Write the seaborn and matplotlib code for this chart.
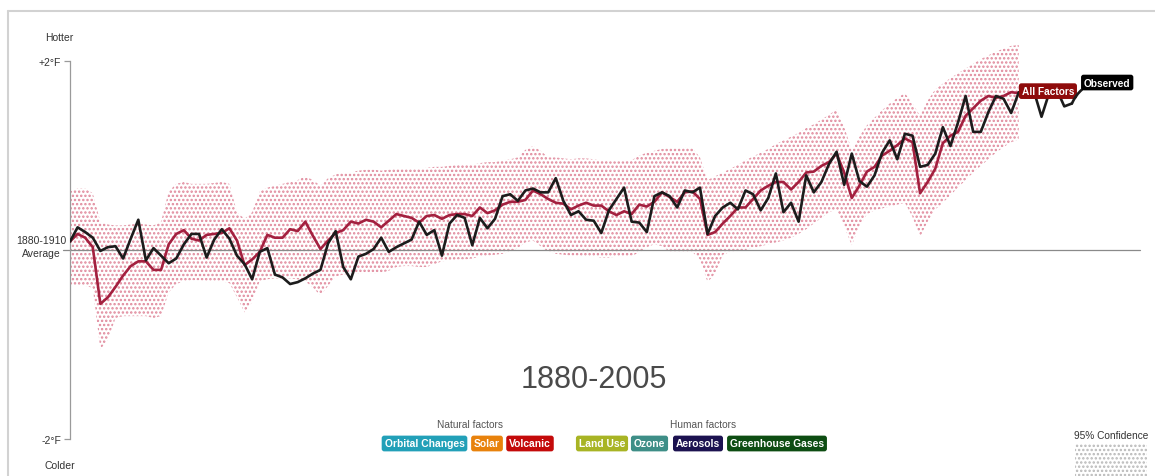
import numpy as np
import pandas as pd
import matplotlib
matplotlib.use("Agg")
import matplotlib.pyplot as plt
import seaborn as sns
from matplotlib.patches import Rectangle
from matplotlib.lines import Line2D

# ---------------- data ----------------
years = list(range(1880, 2006))
obs_years = list(range(1880, 2013))

observed = [
    0.09, 0.24, 0.19, 0.13, -0.01, 0.03, 0.04, -0.09, 0.12, 0.32,
    -0.11, 0.02, -0.06, -0.14, -0.09, 0.06, 0.17, 0.17, -0.08, 0.11,
    0.22, 0.12, -0.06, -0.15, -0.31, -0.02, 0.02, -0.26, -0.29, -0.36,
    -0.34, -0.30, -0.25, -0.21, 0.07, 0.20, -0.18, -0.31, -0.07, -0.04,
    0.01, 0.13, -0.02, 0.03, 0.07, 0.11, 0.30, 0.16, 0.21, -0.06,
    0.28, 0.37, 0.34, 0.05, 0.34, 0.23, 0.33, 0.57, 0.59, 0.52,
    0.63, 0.65, 0.61, 0.61, 0.76, 0.52, 0.37, 0.41, 0.32, 0.31,
    0.18, 0.42, 0.54, 0.66, 0.30, 0.29, 0.19, 0.57, 0.61, 0.57,
    0.45, 0.63, 0.61, 0.66, 0.17, 0.36, 0.45, 0.50, 0.43, 0.63,
    0.59, 0.42, 0.55, 0.81, 0.40, 0.50, 0.30, 0.79, 0.61, 0.72,
    0.91, 1.04, 0.69, 1.02, 0.73, 0.67, 0.79, 1.03, 1.16, 0.96,
    1.23, 1.21, 0.88, 0.90, 1.02, 1.30, 1.10, 1.35, 1.63, 1.25,
    1.25, 1.46, 1.63, 1.60, 1.45, 1.67,
    1.65, 1.68, 1.41, 1.66, 1.70, 1.52, 1.55,
]

all_factors = [
    0.09, 0.17, 0.13, 0.03, -0.57, -0.50, -0.39, -0.27, -0.17, -0.12,
    -0.12, -0.21, -0.21, 0.06, 0.17, 0.21, 0.12, 0.10, 0.16, 0.17,
    0.18, 0.23, 0.10, -0.16, -0.10, -0.02, 0.16, 0.13, 0.13, 0.22,
    0.20, 0.30, 0.15, 0.01, 0.10, 0.18, 0.21, 0.30, 0.28, 0.32,
    0.30, 0.24, 0.31, 0.38, 0.36, 0.34, 0.29, 0.36, 0.37, 0.33,
    0.37, 0.38, 0.38, 0.36, 0.45, 0.39, 0.42, 0.48, 0.51, 0.51,
    0.53, 0.63, 0.59, 0.54, 0.50, 0.49, 0.43, 0.47, 0.50, 0.47,
    0.47, 0.41, 0.37, 0.41, 0.38, 0.48, 0.46, 0.51, 0.61, 0.56,
    0.51, 0.61, 0.62, 0.54, 0.16, 0.19, 0.28, 0.36, 0.45, 0.45,
    0.54, 0.63, 0.68, 0.72, 0.72, 0.64, 0.72, 0.82, 0.83, 0.89,
    0.93, 1.02, 0.82, 0.55, 0.68, 0.83, 0.88, 1.00, 1.05, 1.11,
    1.18, 1.14, 0.60, 0.72, 0.86, 1.13, 1.21, 1.25, 1.42, 1.50,
    1.58, 1.63, 1.61, 1.63, 1.67, 1.66,
]

upper95 = [
    0.62, 0.65, 0.65, 0.60, 0.30, 0.27, 0.26, 0.26, 0.27, 0.28,
    0.27, 0.26, 0.30, 0.62, 0.70, 0.72, 0.70, 0.70, 0.70, 0.71,
    0.72, 0.70, 0.40, 0.33, 0.40, 0.62, 0.66, 0.68, 0.70, 0.72,
    0.74, 0.78, 0.74, 0.68, 0.76, 0.80, 0.82, 0.82, 0.84, 0.85,
    0.85, 0.84, 0.85, 0.86, 0.86, 0.86, 0.86, 0.87, 0.88, 0.88,
    0.89, 0.90, 0.90, 0.90, 0.92, 0.93, 0.93, 0.95, 0.96, 0.98,
    1.06, 1.10, 1.05, 0.98, 0.98, 0.97, 0.96, 0.97, 0.97, 0.96,
    0.95, 0.94, 0.94, 0.94, 0.95, 1.00, 1.03, 1.05, 1.07, 1.08,
    1.08, 1.09, 1.08, 0.98, 0.74, 0.78, 0.82, 0.86, 0.90, 0.95,
    0.99, 1.03, 1.07, 1.12, 1.16, 1.20, 1.24, 1.29, 1.33, 1.38,
    1.43, 1.49, 1.30, 1.06, 1.20, 1.32, 1.40, 1.48, 1.55, 1.61,
    1.66, 1.55, 1.42, 1.58, 1.70, 1.76, 1.82, 1.87, 1.92, 1.97,
    2.02, 2.06, 2.10, 2.13, 2.16, 2.17,
]

lower95 = [
    -0.38, -0.38, -0.38, -0.40, -1.05, -0.95, -0.72, -0.70, -0.70, -0.70,
    -0.70, -0.72, -0.70, -0.45, -0.36, -0.33, -0.32, -0.32, -0.33, -0.34,
    -0.33, -0.35, -0.50, -0.66, -0.55, -0.33, -0.31, -0.30, -0.30, -0.30,
    -0.31, -0.33, -0.40, -0.48, -0.38, -0.28, -0.26, -0.25, -0.25, -0.24,
    -0.25, -0.24, -0.22, -0.18, -0.17, -0.17, -0.18, -0.18, -0.15, -0.12,
    -0.11, -0.10, -0.10, -0.09, -0.07, -0.06, -0.05, -0.04, -0.02, 0.02,
    0.08, 0.10, 0.04, -0.02, -0.04, -0.05, -0.06, -0.06, -0.07, -0.07,
    -0.08, -0.08, -0.07, -0.07, -0.06, -0.03, 0.03, 0.06, 0.04, -0.02,
    -0.03, -0.03, -0.02, -0.10, -0.34, -0.25, -0.05, -0.02, -0.01, 0.00,
    0.02, 0.04, 0.06, 0.08, 0.10, 0.13, 0.17, 0.22, 0.28, 0.34,
    0.40, 0.43, 0.25, 0.05, 0.25, 0.38, 0.42, 0.44, 0.46, 0.48,
    0.50, 0.35, 0.14, 0.30, 0.43, 0.50, 0.58, 0.66, 0.74, 0.82,
    0.89, 0.96, 1.03, 1.09, 1.14, 1.17,
]

y_ticks = [-2, 0, 2]
y_tick_labels = ["-2°F", "", "+2°F"]
zero_label = "1880-1910\nAverage"
title_text = "1880-2005"
natural_factors = ["Orbital Changes", "Solar", "Volcanic"]
natural_colors = ["#22a0b8", "#e8820c", "#c40a0a"]
human_factors = ["Land Use", "Ozone", "Aerosols", "Greenhouse Gases"]
human_colors = ["#a8b424", "#3e8e87", "#1c1250", "#0d4d12"]

# ---------------- style ----------------
sns.set_style("white")
plt.rcParams["font.family"] = ["Liberation Sans", "DejaVu Sans"]
plt.rcParams["hatch.linewidth"] = 1.15

W, H = 1155, 477
fig = plt.figure(figsize=(W / 100, H / 100), dpi=100)
fig.patch.set_facecolor("white")


def fx(px):
    return px / W


def fy(py):
    return 1 - py / H


PX_PER_YEAR = 7.59
PX_PER_DEG = 94.5
Y0 = 251
AX_L, AX_R, AX_T, AX_B = 70, 1140, 20, 470

ax = fig.add_axes([fx(AX_L), fy(AX_B), fx(AX_R) - fx(AX_L), fy(AX_T) - fy(AX_B)])
ax.set_xlim(1880, 1880 + (AX_R - AX_L) / PX_PER_YEAR)
ax.set_ylim(-(AX_B - Y0) / PX_PER_DEG, (Y0 - AX_T) / PX_PER_DEG)
ax.patch.set_alpha(0)

# confidence band (dotted)
ax.fill_between(years, lower95, upper95, facecolor="none",
                edgecolor="#e0889b", hatch="....", linewidth=0, zorder=1)

# zero line
ax.axhline(0, xmin=-7 / (AX_R - AX_L), xmax=1, color="#8a8a8a", lw=0.9,
           clip_on=False, zorder=2)

df_model = pd.DataFrame({"year": years, "value": all_factors})
df_obs = pd.DataFrame({"year": obs_years, "value": observed})
sns.lineplot(data=df_model, x="year", y="value", color="#a3203f",
             linewidth=1.9, ax=ax, zorder=3)
sns.lineplot(data=df_obs, x="year", y="value", color="#1c1c1c",
             linewidth=1.9, ax=ax, zorder=4)

# axes styling
for s in ["top", "right", "bottom"]:
    ax.spines[s].set_visible(False)
ax.spines["left"].set_bounds(-2, 2)
ax.spines["left"].set_color("#9a9a9a")
ax.spines["left"].set_linewidth(0.9)
ax.set_xticks([])
ax.set_yticks(y_ticks)
ax.set_yticklabels(y_tick_labels)
ax.tick_params(axis="y", direction="out", length=4, width=0.9,
               color="#9a9a9a", pad=2.5, labelsize=7.5, labelcolor="#333333",
               left=True)
ax.yaxis.get_major_ticks()[1].tick1line.set_visible(False)
ax.set_xlabel("")
ax.set_ylabel("")

fig.text(fx(41), fy(247.5), zero_label, ha="center", va="center",
         multialignment="center", linespacing=1.45, fontsize=7.5,
         color="#333333")

# series labels
ax.annotate("All Factors", xy=(years[-1], all_factors[-1]),
            xytext=(3, 2), textcoords="offset pixels", ha="left", va="center",
            fontsize=7.3, fontweight="bold", color="white", zorder=6,
            bbox=dict(boxstyle="round,pad=0.28,rounding_size=0.25",
                      fc="#8e0b0b", ec="none"))
ax.annotate("Observed", xy=(obs_years[-1], observed[-1]),
            xytext=(12, 21), textcoords="offset pixels", ha="left", va="center",
            fontsize=7.3, fontweight="bold", color="white", zorder=6,
            bbox=dict(boxstyle="round,pad=0.28,rounding_size=0.25",
                      fc="#000000", ec="none"),
            arrowprops=dict(arrowstyle="-", color="#1c1c1c", lw=1.9,
                            shrinkA=0, shrinkB=0,
                            connectionstyle="arc3,rad=0.35"))

# side texts
fig.text(fx(59), fy(38), "Hotter", ha="center", va="center", fontsize=7.5,
         color="#333333")
fig.text(fx(60), fy(466), "Colder", ha="center", va="center", fontsize=7.5,
         color="#333333")

# title
fig.text(fx(594), fy(380), title_text, ha="center", va="center", fontsize=22,
         color="#4a4a4a")

# factor groups
fig.text(fx(470), fy(425), "Natural factors", ha="center", va="center",
         fontsize=7.3, color="#555555")
fig.text(fx(703), fy(425), "Human factors", ha="center", va="center",
         fontsize=7.3, color="#555555")

nat_centers = [424.5, 487, 530]
hum_centers = [602, 649.5, 698, 777]
for name, col, cx in zip(natural_factors, natural_colors, nat_centers):
    fig.text(fx(cx), fy(444.5), name, ha="center", va="center", fontsize=7.4,
             fontweight="bold", color="white",
             bbox=dict(boxstyle="round,pad=0.28,rounding_size=0.25", fc=col,
                       ec="none"))
for name, col, cx in zip(human_factors, human_colors, hum_centers):
    fig.text(fx(cx), fy(444.5), name, ha="center", va="center", fontsize=7.4,
             fontweight="bold", color="white",
             bbox=dict(boxstyle="round,pad=0.28,rounding_size=0.25", fc=col,
                       ec="none"))

# 95% confidence key
fig.text(fx(1111), fy(436), "95% Confidence", ha="center", va="center",
         fontsize=7.3, color="#333333")
fig.patches.append(Rectangle((fx(1075), fy(477)), fx(1147) - fx(1075),
                             fy(445) - fy(477), transform=fig.transFigure,
                             facecolor="none", edgecolor="#b8b8b8",
                             hatch="....", linewidth=0))

# outer frame lines
fig.add_artist(Line2D([fx(8), 1], [fy(12), fy(12)], transform=fig.transFigure,
                      color="#d2d2d2", lw=1.5))
fig.add_artist(Line2D([fx(8), fx(8)], [fy(12), 0], transform=fig.transFigure,
                      color="#d2d2d2", lw=1.5))

fig.savefig("out.png", dpi=100, facecolor="white")
